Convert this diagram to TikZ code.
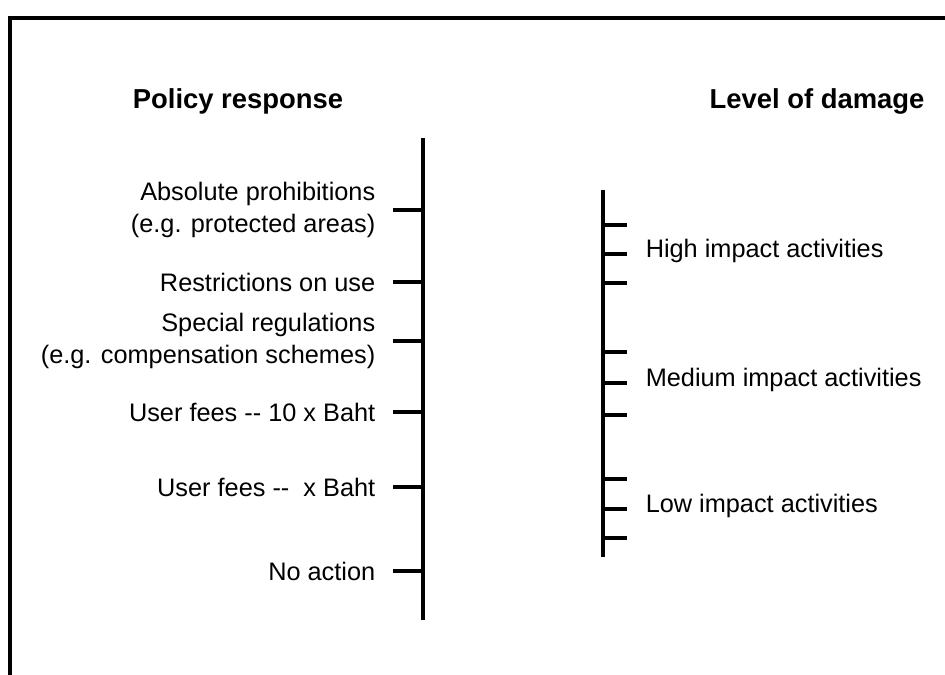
\documentclass[tikz,border=0pt]{standalone}
\usepackage{fontspec}
\setmainfont{Liberation Sans}
\usetikzlibrary{positioning}

\begin{document}
\begin{tikzpicture}[x=0.025cm,y=0.025cm,line width=2.5pt,
  font=\fontsize{18}{23.4}\selectfont,
  head/.style={font=\fontsize{19.5}{24}\selectfont\bfseries},
  resp/.style={align=right,inner sep=0pt},
  dmg/.style={anchor=mid west,inner sep=0pt}]
\useasboundingbox (0,0) rectangle (945,675);
% open frame: top edge and left edge only
\draw (10,0) -- (10,657) -- (945,657);

% headings
\node[head] (hresp) at (238,574) {Policy response};
\node[head] (hdmg) at (817,574) {Level of damage};

% policy axis with its ticks
\coordinate (rtop) at (423,537);
\coordinate (rbot) at (423,55);
\draw (rtop) -- (rbot);
\foreach \y/\nm/\txt in {465/abs/{Absolute prohibitions\\(e.g. protected areas)},
    393/restr/{Restrictions on use},
    334/spec/{Special regulations\\(e.g. compensation schemes)},
    263/feeten/{User fees {-}{-} 10 x Baht},
    188/fee/{User fees {-}{-}\ \ x Baht},
    104/none/{No action}}{
  \coordinate (\nm) at (423,\y);
  \draw (\nm) -- ++(-30,0) coordinate (\nm-t);
  \node[resp,left=4mm of \nm-t] (\nm-l) {\txt};
}

% damage axis with its ticks
\coordinate (dtop) at (603,485);
\coordinate (dbot) at (603,118);
\draw (dtop) -- (dbot);
\foreach \y [count=\i] in {450,421,392,323,292,260,196,166,137}{
  \coordinate (d\i) at (603,\y);
  \draw (d\i) -- ++(24,0) coordinate (d\i-t);
}
\node[dmg] (high) at ([xshift=17*0.025cm]d2-t) {High impact activities};
\node[dmg] (med) at ([xshift=17*0.025cm]d5-t) {Medium impact activities};
\node[dmg] (low) at ([xshift=17*0.025cm]d8-t) {Low impact activities};
\end{tikzpicture}
\end{document}
